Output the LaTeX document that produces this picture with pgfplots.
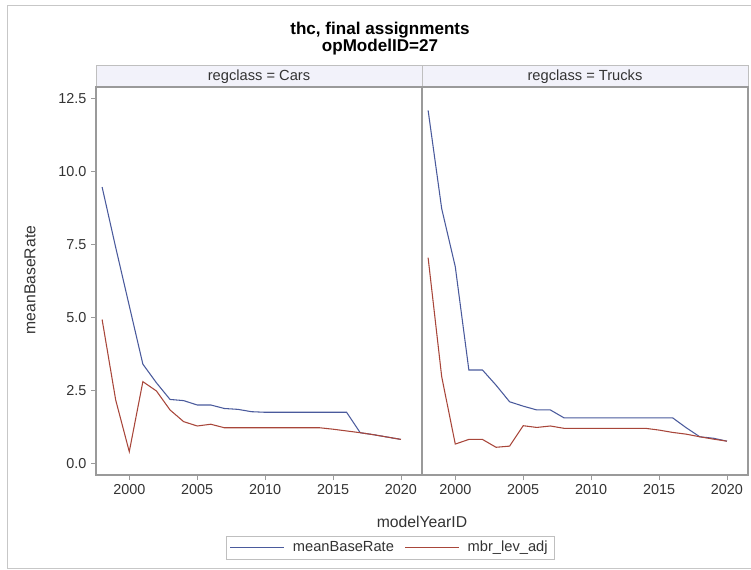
\documentclass[border=0pt]{standalone}
\usepackage{pgfplots}
\pgfplotsset{compat=1.18}
\usepackage{fontspec}
\setmainfont{Liberation Sans}

\definecolor{sasblue}{HTML}{4A5A9C}
\definecolor{sasred}{HTML}{A8463A}
\definecolor{framegray}{HTML}{9A9A9A}
\definecolor{stripfill}{HTML}{F2F2FA}
\definecolor{txt}{HTML}{333333}

% 1 px of the reference = 0.75pt
\pgfplotsset{
  panel/.style={
    scale only axis,
    width=244.5pt, height=291pt,
    anchor=south west,
    xmin=1997.55, xmax=2021.55,
    ymin=-0.4, ymax=12.9,
    xtick={2000,2005,...,2020},
    ytick={0,2.5,...,12.5},
    tick align=outside,
    major tick length=3.75pt,
    xtick pos=bottom, ytick pos=left,
    axis line style={framegray, line width=0.9pt},
    tick style={framegray, line width=0.6pt},
    ticklabel style={font=\fontsize{10.8}{13}\selectfont, text=txt},
    /pgf/number format/assume math mode=true,
    x tick label style={/pgf/number format/set thousands separator={}},
    y tick label style={/pgf/number format/.cd, fixed, fixed zerofill, precision=1},
    every axis plot/.append style={line width=0.8pt, mark=none},
    clip=true,
  }
}

\begin{document}
\begin{tikzpicture}[x=0.75pt, y=0.75pt]
\useasboundingbox (0,0) rectangle (751,569);
% outer frame
\draw[color=black!22, line width=0.75pt] (751,563) -- (7,563) -- (7,1) -- (751,1);

% titles
\node[font=\bfseries\fontsize{12.8}{15}\selectfont] at (380,539) {thc, final assignments};
\node[font=\bfseries\fontsize{12.8}{15}\selectfont] at (380,522) {opModelID=27};

% panel header strips
\draw[fill=stripfill, draw=black!25, line width=0.75pt] (96,482) rectangle (422,503);
\draw[fill=stripfill, draw=black!25, line width=0.75pt] (422,482) rectangle (748,503);
\node[font=\fontsize{11}{13}\selectfont, text=txt] at (259,492.5) {regclass = Cars};
\node[font=\fontsize{11}{13}\selectfont, text=txt] at (585,492.5) {regclass = Trucks};

\begin{axis}[panel, at={(72pt,70.5pt)},
  legend columns=2,
  legend style={at={(0.902,-0.187)}, anchor=center, draw=black!25,
    font=\fontsize{11}{13}\selectfont, text=txt,
    /tikz/every odd column/.append style={column sep=4.5pt},
    /tikz/every even column/.append style={column sep=6pt}},
  legend image code/.code={\draw[#1] (0pt,0pt) -- (40pt,0pt);},
]
\addplot[sasblue] coordinates {
(1998,9.47)(1999,7.4)(2000,5.4)(2001,3.4)(2002,2.76)(2003,2.19)(2004,2.15)
(2005,2.0)(2006,2.0)(2007,1.88)(2008,1.85)(2009,1.77)(2010,1.75)(2011,1.75)
(2012,1.75)(2013,1.75)(2014,1.75)(2015,1.75)(2016,1.75)(2017,1.05)(2018,0.98)
(2019,0.90)(2020,0.82)};
\addlegendentry{meanBaseRate}
\addplot[sasred] coordinates {
(1998,4.93)(1999,2.17)(2000,0.40)(2001,2.80)(2002,2.48)(2003,1.83)(2004,1.43)
(2005,1.28)(2006,1.34)(2007,1.22)(2008,1.22)(2009,1.22)(2010,1.22)(2011,1.22)
(2012,1.22)(2013,1.22)(2014,1.22)(2015,1.17)(2016,1.11)(2017,1.05)(2018,0.98)
(2019,0.90)(2020,0.82)};
\addlegendentry{mbr\_lev\_adj}
\end{axis}

\begin{axis}[panel, at={(316.5pt,70.5pt)}, yticklabels={}, ytick=\empty]
\addplot[sasblue] coordinates {
(1998,12.1)(1999,8.73)(2000,6.74)(2001,3.2)(2002,3.2)(2003,2.68)(2004,2.11)
(2005,1.96)(2006,1.83)(2007,1.83)(2008,1.56)(2009,1.56)(2010,1.56)(2011,1.56)
(2012,1.56)(2013,1.56)(2014,1.56)(2015,1.56)(2016,1.56)(2017,1.22)(2018,0.91)
(2019,0.86)(2020,0.76)};
\addplot[sasred] coordinates {
(1998,7.05)(1999,2.97)(2000,0.66)(2001,0.82)(2002,0.82)(2003,0.55)(2004,0.59)
(2005,1.29)(2006,1.23)(2007,1.28)(2008,1.20)(2009,1.20)(2010,1.20)(2011,1.20)
(2012,1.20)(2013,1.20)(2014,1.20)(2015,1.14)(2016,1.06)(2017,1.00)(2018,0.91)
(2019,0.83)(2020,0.76)};
\end{axis}

% axis labels
\node[rotate=90, font=\fontsize{11.8}{14}\selectfont, text=txt] at (30,289) {meanBaseRate};
\node[font=\fontsize{11.8}{14}\selectfont, text=txt] at (422,47) {modelYearID};
\end{tikzpicture}
\end{document}
